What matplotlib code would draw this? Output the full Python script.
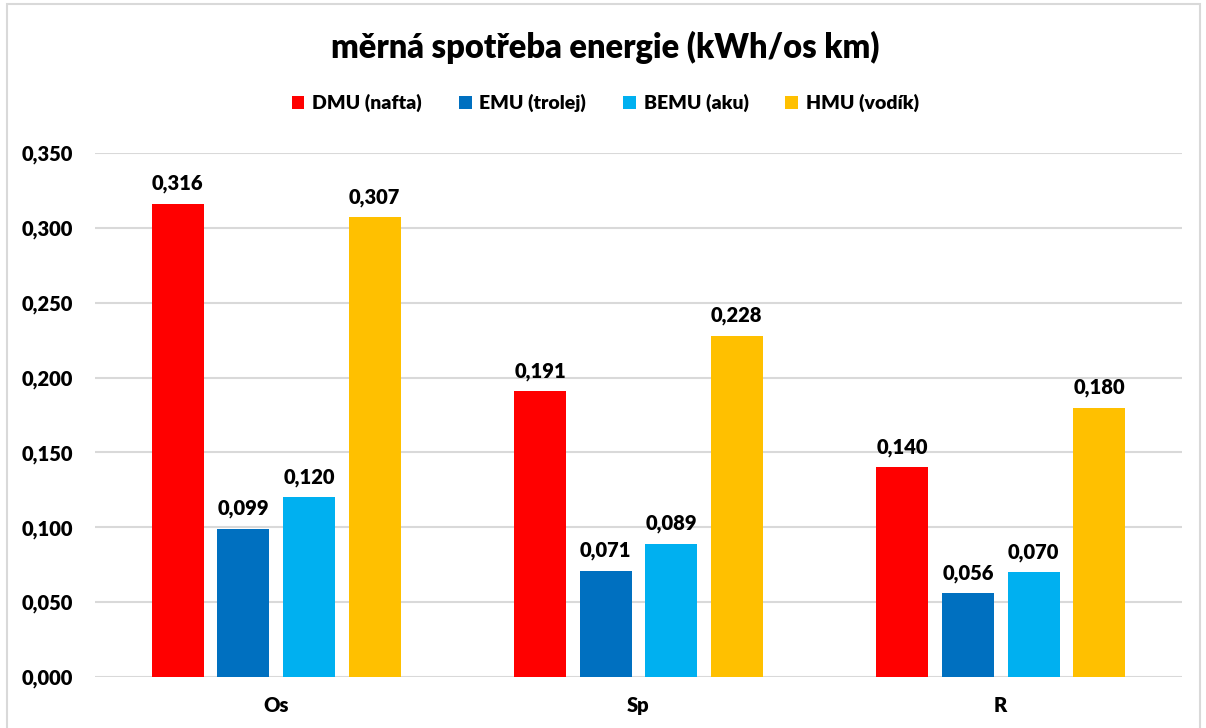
import matplotlib

matplotlib.use("Agg")
import matplotlib.pyplot as plt
import numpy as np
from matplotlib.patches import Rectangle

categories = ["Os", "Sp", "R"]
series = ["DMU (nafta)", "EMU (trolej)", "BEMU (aku)", "HMU (vodík)"]
dmu = [0.316, 0.191, 0.140]
emu = [0.099, 0.071, 0.056]
bemu = [0.120, 0.089, 0.070]
hmu = [0.307, 0.228, 0.180]
colors = ["#FF0000", "#0070C0", "#00B0F0", "#FFC000"]
yticks = [0.0, 0.05, 0.10, 0.15, 0.20, 0.25, 0.30, 0.35]

plt.rcParams["font.family"] = ["Lato", "DejaVu Sans"]
W = "heavy"


def fmt(v):
    return f"{v:.3f}".replace(".", ",")


fig = plt.figure(figsize=(12.06, 7.28), dpi=100)
ax = fig.add_axes([0.0788, 0.07, 0.9012, 0.7198])

x = np.arange(len(categories))
width = 0.1435
pitch = 0.181
for i, (name, vals) in enumerate(zip(series, [dmu, emu, bemu, hmu])):
    pos = x + (i - 1.5) * pitch
    bars = ax.bar(pos, vals, width, color=colors[i], label=name, zorder=3)
    for b, v in zip(bars, vals):
        ax.text(b.get_x() + b.get_width() / 2, v + 0.007, fmt(v),
                ha="center", va="bottom", fontsize=14.5, fontweight=W)

ax.set_xlim(-0.5, len(categories) - 0.5)
ax.set_ylim(0, 0.35)
ax.set_yticks(yticks)
ax.set_yticklabels([fmt(t) for t in yticks], fontsize=14.5, fontweight=W)
ax.set_xticks(x)
ax.set_xticklabels(categories, fontsize=14.5, fontweight=W)
ax.tick_params(length=0, axis="y", pad=16)
ax.tick_params(length=0, axis="x", pad=14)
ax.grid(axis="y", color="#D9D9D9", linewidth=1.5, zorder=0)
for s in ax.spines.values():
    s.set_visible(False)

fig.text(0.502, 0.935, "měrná spotřeba energie (kWh/os km)", ha="center",
         va="center", fontsize=23.5, fontweight=W)
fig.legend(loc="center", bbox_to_anchor=(0.502, 0.858), ncol=4, frameon=False,
           prop={"size": 14, "weight": W}, handlelength=0.65,
           handleheight=0.65, handletextpad=0.4, columnspacing=1.9)

fig.patches.append(Rectangle((0.006, -0.01), 0.989, 1.004,
                             transform=fig.transFigure, fill=False,
                             edgecolor="#D9D9D9", linewidth=1.5))

fig.savefig("out.png", dpi=100)
